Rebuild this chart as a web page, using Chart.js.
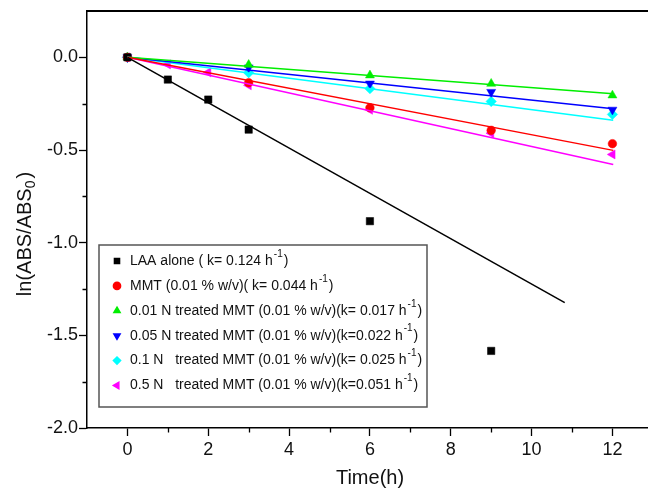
<!DOCTYPE html>
<html lang="en">
<head>
<meta charset="UTF-8">
<title>ln(ABS/ABS0) vs time</title>
<script src="https://cdn.jsdelivr.net/npm/chart.js"></script>
<style>
  body { margin: 0; background: #fff; }
  .chart-container { width: 648px; height: 488px; }
</style>
</head>
<body>
<div class="chart-container"><canvas id="kineticsChart"></canvas></div>
<script>
// measured points, ln(ABS/ABS0) against time in hours
const laaTime = [0, 1, 2, 3, 6, 9];
const laaValues = [0, -0.12, -0.228, -0.39, -0.884, -1.584];
const mmtTime = [0, 3, 6, 9, 12];
const mmtValues = [0, -0.137, -0.272, -0.394, -0.466];
const n001Time = [0, 3, 6, 9, 12];
const n001Values = [0, -0.04, -0.097, -0.142, -0.205];
const n005Time = [0, 3, 6, 9, 12];
const n005Values = [0, -0.055, -0.142, -0.187, -0.283];
const n01Time = [0, 3, 6, 9, 12];
const n01Values = [0, -0.083, -0.169, -0.238, -0.308];
const n05Time = [0, 1, 2, 3, 6, 9, 12];
const n05Values = [0, -0.038, -0.081, -0.151, -0.283, -0.409, -0.524];

// linear fits, all starting at the origin
const fitEndTime = [10.82, 12.02, 12.02, 12.02, 12.02, 12.02];
const fitEndValue = [-1.323, -0.502, -0.196, -0.277, -0.340, -0.578];

// legend text, each followed by a superscript "-1" and ")"
const legendLabels = [
    'LAA alone ( k= 0.124 h',
    'MMT (0.01 % w/v)( k= 0.044 h',
    '0.01 N treated MMT (0.01 % w/v)(k= 0.017 h',
    '0.05 N treated MMT (0.01 % w/v)(k=0.022 h',
    '0.1 N   treated MMT (0.01 % w/v)(k= 0.025 h',
    '0.5 N   treated MMT (0.01 % w/v)(k=0.051 h'
];

const xTicks = [0, 2, 4, 6, 8, 10, 12];
const xMinorTicks = [1, 3, 5, 7, 9, 11];
const yTicks = [-2.0, -1.5, -1.0, -0.5, 0.0];
const yMinorTicks = [-1.75, -1.25, -0.75, -0.25];

const seriesTime = [laaTime, mmtTime, n001Time, n005Time, n01Time, n05Time];
const seriesValues = [laaValues, mmtValues, n001Values, n005Values, n01Values, n05Values];
const colors = ['#000000', '#ff0000', '#00ee00', '#0000ff', '#00ffff', '#ff00ff'];
const markers = [
    { style: 'rect', rotation: 0, radius: 5.2 },
    { style: 'circle', rotation: 0, radius: 4.3 },
    { style: 'triangle', rotation: 0, radius: 5.2 },
    { style: 'triangle', rotation: 180, radius: 5.2 },
    { style: 'rectRot', rotation: 0, radius: 5.2 },
    { style: 'triangle', rotation: 270, radius: 5.2 }
];

function toPoints(xs, ys) {
    return xs.map((x, i) => ({ x: x, y: ys[i] }));
}

const datasets = [];
// fit lines first so the markers sit on top
colors.forEach((c, i) => {
    datasets.push({
        data: [{ x: 0, y: 0 }, { x: fitEndTime[i], y: fitEndValue[i] }],
        showLine: true,
        borderColor: c,
        borderWidth: 1.5,
        pointRadius: 0
    });
});
colors.forEach((c, i) => {
    datasets.push({
        data: toPoints(seriesTime[i], seriesValues[i]),
        showLine: false,
        backgroundColor: c,
        borderColor: c,
        pointBorderWidth: 0.5,
        pointStyle: markers[i].style,
        pointRotation: markers[i].rotation,
        pointRadius: markers[i].radius
    });
});

function drawMarker(ctx, i, x, y, r) {
    ctx.save();
    ctx.fillStyle = colors[i];
    ctx.strokeStyle = colors[i];
    Chart.helpers.drawPoint(ctx, {
        pointStyle: markers[i].style,
        rotation: markers[i].rotation,
        radius: r,
        borderWidth: 0.5
    }, x, y);
    ctx.restore();
}

// frame, minor ticks, axis titles and legend box
const decorations = {
    id: 'decorations',
    afterDraw(chart) {
        const ctx = chart.ctx;
        const area = chart.chartArea;
        const xs = chart.scales.x;
        const ys = chart.scales.y;
        ctx.save();
        ctx.strokeStyle = '#000';

        // top frame line
        ctx.lineWidth = 2;
        ctx.beginPath();
        ctx.moveTo(area.left, area.top);
        ctx.lineTo(area.right, area.top);
        ctx.stroke();

        // minor ticks
        ctx.lineWidth = 1.3;
        ctx.beginPath();
        xMinorTicks.forEach(v => {
            const px = Math.round(xs.getPixelForValue(v)) + 0.5;
            ctx.moveTo(px, area.bottom);
            ctx.lineTo(px, area.bottom + 4.5);
        });
        yMinorTicks.forEach(v => {
            const py = Math.round(ys.getPixelForValue(v)) + 0.5;
            ctx.moveTo(area.left, py);
            ctx.lineTo(area.left - 4.5, py);
        });
        ctx.stroke();

        // axis titles
        ctx.fillStyle = '#111';
        ctx.textBaseline = 'middle';
        ctx.font = '20px "Liberation Sans", Arial, sans-serif';
        ctx.textAlign = 'center';
        ctx.fillText('Time(h)', 370, 478);

        ctx.save();
        ctx.translate(25, 234);
        ctx.rotate(-Math.PI / 2);
        const main = 'ln(ABS/ABS';
        ctx.font = '20px "Liberation Sans", Arial, sans-serif';
        const wMain = ctx.measureText(main).width;
        const wClose = ctx.measureText(')').width;
        ctx.font = '14px "Liberation Sans", Arial, sans-serif';
        const wSub = ctx.measureText('0').width;
        let tx = -(wMain + wSub + wClose + 2) / 2;
        ctx.textAlign = 'left';
        ctx.font = '20px "Liberation Sans", Arial, sans-serif';
        ctx.fillText(main, tx, 0);
        tx += wMain;
        ctx.font = '14px "Liberation Sans", Arial, sans-serif';
        ctx.fillText('0', tx, 6);
        tx += wSub + 2;
        ctx.font = '20px "Liberation Sans", Arial, sans-serif';
        ctx.fillText(')', tx, 0);
        ctx.restore();

        // legend
        ctx.fillStyle = '#fff';
        ctx.fillRect(99, 245, 328, 162);
        ctx.strokeStyle = '#555';
        ctx.lineWidth = 1.5;
        ctx.strokeRect(99, 245, 328, 162);
        legendLabels.forEach((label, i) => {
            const rowY = 261 + i * 24.9;
            drawMarker(ctx, i, 117, rowY, 3.6);
            ctx.fillStyle = '#111';
            ctx.textAlign = 'left';
            ctx.font = '14px "Liberation Sans", Arial, sans-serif';
            ctx.fillText(label, 130, rowY);
            let lx = 130 + ctx.measureText(label).width + 1;
            ctx.font = '10px "Liberation Sans", Arial, sans-serif';
            ctx.fillText('-1', lx, rowY - 7);
            lx += ctx.measureText('-1').width + 1;
            ctx.font = '14px "Liberation Sans", Arial, sans-serif';
            ctx.fillText(')', lx, rowY);
        });
        ctx.restore();
    }
};

const ctx = document.getElementById('kineticsChart').getContext('2d');
new Chart(ctx, {
    type: 'scatter',
    data: { datasets: datasets },
    options: {
        responsive: true,
        maintainAspectRatio: false,
        animation: false,
        layout: { autoPadding: false, padding: { top: 11, right: 0, bottom: 0, left: 0 } },
        plugins: {
            legend: { display: false },
            tooltip: { enabled: false }
        },
        scales: {
            x: {
                type: 'linear',
                min: -1,
                max: 12.88,
                afterFit: scale => {
                    scale.height = 60;
                    scale.paddingLeft = 0;
                    scale.paddingRight = 0;
                },
                afterBuildTicks: scale => { scale.ticks = xTicks.map(v => ({ value: v })); },
                border: { color: '#000', width: 1.5 },
                grid: { drawOnChartArea: false, tickLength: 8, tickColor: '#000', tickWidth: 1.3 },
                ticks: {
                    color: '#111',
                    padding: 3,
                    maxRotation: 0,
                    font: { family: '"Liberation Sans", Arial, sans-serif', size: 18 },
                    callback: v => String(v)
                }
            },
            y: {
                type: 'linear',
                min: -2.0,
                max: 0.25,
                afterFit: scale => {
                    scale.width = 87;
                    scale.paddingTop = 0;
                    scale.paddingBottom = 0;
                },
                afterBuildTicks: scale => { scale.ticks = yTicks.map(v => ({ value: v })); },
                border: { color: '#000', width: 1.5 },
                grid: { drawOnChartArea: false, tickLength: 8, tickColor: '#000', tickWidth: 1.3 },
                ticks: {
                    color: '#111',
                    padding: 1,
                    font: { family: '"Liberation Sans", Arial, sans-serif', size: 18 },
                    callback: v => v.toFixed(1)
                }
            }
        }
    },
    plugins: [decorations]
});
</script>
</body>
</html>
